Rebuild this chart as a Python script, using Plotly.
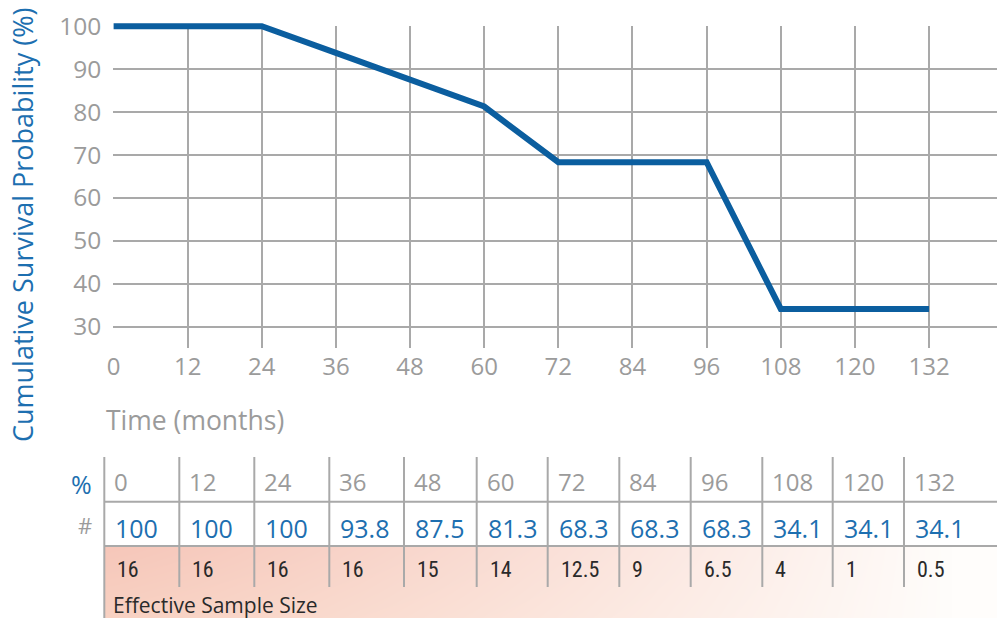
import base64
import struct
import zlib

import numpy as np
import plotly.graph_objects as go

# ---------------- data ----------------
months = [0, 12, 24, 36, 48, 60, 72, 84, 96, 108, 120, 132]
survival_pct = [100, 100, 100, 93.8, 87.5, 81.3, 68.3, 68.3, 68.3, 34.1, 34.1, 34.1]
effective_n = [16, 16, 16, 16, 15, 14, 12.5, 9, 6.5, 4, 1, 0.5]
y_ticks = [30, 40, 50, 60, 70, 80, 90, 100]
x_title = "Time (months)"
y_title = "Cumulative Survival Probability (%)"
row_labels = ["%", "#"]
footer_label = "Effective Sample Size"

# ---------------- layout helpers ----------------
W, H = 997, 618


def px(x):
    return x / W


def py(y):
    return 1 - y / H


col_edges = [104.3, 179.3, 254.3, 329.3, 404, 476.7, 547.7, 619.3, 690.7, 762.3, 832.7, 904]

BLUE_LINE = "#0b5e9f"
BLUE_TXT = "#1d6fb0"
GRAY_TXT = "#9b9b9b"
GRID = "#a9a9a9"
FONT = "Open Sans, Noto Sans, sans-serif"
COND = "Liberation Sans Narrow, Roboto Condensed, Arial Narrow, Open Sans, sans-serif"


def fmt(v):
    return f"{v:g}"


def png_data_uri(arr):
    h, w, _ = arr.shape
    raw = b"".join(b"\x00" + arr[r].tobytes() for r in range(h))

    def chunk(t, d):
        c = struct.pack(">I", len(d)) + t + d
        return c + struct.pack(">I", zlib.crc32(t + d) & 0xFFFFFFFF)

    png = (b"\x89PNG\r\n\x1a\n"
           + chunk(b"IHDR", struct.pack(">IIBBBBB", w, h, 8, 2, 0, 0, 0))
           + chunk(b"IDAT", zlib.compress(raw, 9))
           + chunk(b"IEND", b""))
    return "data:image/png;base64," + base64.b64encode(png).decode()


# pink gradient background for the effective sample size band
gx0, gy0, gx1, gy1 = 104.3, 546, 997, 618
gw, gh = int(gx1 - gx0), int(gy1 - gy0)
xs = np.linspace(0, 1, gw)[None, :, None]
ys = np.linspace(0, 1, gh)[:, None, None]
pink = np.array([246, 199, 186], dtype=float)[None, None, :]
peach = np.array([251, 220, 203], dtype=float)[None, None, :]
white = np.array([255, 253, 251], dtype=float)[None, None, :]
base = pink * (1 - ys * 0.5) + peach * (ys * 0.5)
mix = np.clip(xs / 0.95, 0, 1) ** 1.2
grad = base * (1 - mix) + white * mix
grad = np.clip(grad, 0, 255).astype(np.uint8)
grad_uri = png_data_uri(grad)

fig = go.Figure()

# invisible anchor trace for the grid subplot
fig.add_trace(go.Scatter(x=months, y=survival_pct, mode="lines",
                         line=dict(color="rgba(0,0,0,0)", width=0),
                         hoverinfo="skip", showlegend=False,
                         xaxis="x", yaxis="y"))
# the survival curve (on an identical-scale axis with a slightly taller domain so the
# thick line at 100 is not clipped)
fig.add_trace(go.Scatter(x=months, y=survival_pct, mode="lines",
                         line=dict(color=BLUE_LINE, width=6),
                         hoverinfo="skip", showlegend=False,
                         xaxis="x2", yaxis="y2"))

plot_l, plot_r = 113.2, 997
plot_top, plot_bot = 26.3, 348
x_range = [-0.05, 143.0]
y_range = [25, 100]
ppu = (plot_bot - plot_top) / (y_range[1] - y_range[0])
ext = 9
y2_range = [25, 100 + ext / ppu]

annotations = []
shapes = []


def ann(text, x, y, size, color, family=FONT, xanchor="left", angle=0):
    annotations.append(dict(text=text, x=px(x), y=py(y), xref="paper", yref="paper",
                            xanchor=xanchor, yanchor="middle", textangle=angle,
                            showarrow=False, font=dict(family=family, size=size, color=color)))


# axis titles
ann(y_title, 22, 225, 27, BLUE_TXT, xanchor="center", angle=-90)
ann(x_title, 104, 420, 26.5, GRAY_TXT)

# table rows
ann(row_labels[0], 81, 484, 25, BLUE_TXT, xanchor="center")
ann(row_labels[1], 85, 525, 22, GRAY_TXT, xanchor="center")
for i, m in enumerate(months):
    cx = col_edges[i]
    ann(fmt(m), cx + 8, 482, 24, GRAY_TXT)
    ann(fmt(survival_pct[i]), cx + 9, 528, 25, BLUE_TXT)
    ann(fmt(effective_n[i]), cx + 11, 569, 22, "#2a2a2a", family=COND)
ann(footer_label, 111, 605, 21, "#2a2a2a")

# table lines
for i, cx in enumerate(col_edges):
    shapes.append(dict(type="line", xref="paper", yref="paper", x0=px(cx), x1=px(cx),
                       y0=py(457), y1=py(618 if i == 0 else 587),
                       line=dict(color=GRID, width=2)))
for yy in (501.7, 546):
    shapes.append(dict(type="line", xref="paper", yref="paper", x0=px(col_edges[0]), x1=1,
                       y0=py(yy), y1=py(yy), line=dict(color=GRID, width=2)))

fig.update_layout(
    width=W, height=H, autosize=False,
    template="none",
    paper_bgcolor="white", plot_bgcolor="rgba(0,0,0,0)",
    margin=dict(l=0, r=0, t=0, b=0, pad=0),
    showlegend=False,
    font=dict(family=FONT),
    xaxis=dict(domain=[px(plot_l), px(plot_r)], range=x_range, anchor="y",
               tickmode="array", tickvals=months, ticktext=[fmt(m) for m in months],
               showgrid=True, gridcolor=GRID, gridwidth=2, zeroline=False,
               showline=False, ticks="", automargin=False, ticklabelstandoff=2,
               tickfont=dict(family=FONT, size=24, color=GRAY_TXT)),
    yaxis=dict(domain=[py(plot_bot), py(plot_top)], range=y_range, anchor="x",
               tickmode="array", tickvals=y_ticks, ticktext=[fmt(v) for v in y_ticks],
               showgrid=True, gridcolor=GRID, gridwidth=2, zeroline=False,
               showline=False, ticks="", automargin=False, ticklabelstandoff=11,
               tickfont=dict(family=FONT, size=24.5, color=GRAY_TXT)),
    xaxis2=dict(domain=[px(plot_l), px(plot_r)], range=x_range, anchor="y2",
                visible=False, automargin=False),
    yaxis2=dict(domain=[py(plot_bot), py(plot_top - ext)], range=y2_range, anchor="x2",
                visible=False, automargin=False),
    annotations=annotations,
    shapes=shapes,
    images=[dict(source=grad_uri, xref="paper", yref="paper", x=px(gx0), y=py(gy0),
                 sizex=px(gx1) - px(gx0), sizey=(gy1 - gy0) / H, sizing="stretch",
                 xanchor="left", yanchor="top", layer="below")],
)

fig.write_html("out.html",
               config={"displayModeBar": False, "staticPlot": True},
               post_script="document.body.style.margin='0';document.body.style.overflow='hidden';")
